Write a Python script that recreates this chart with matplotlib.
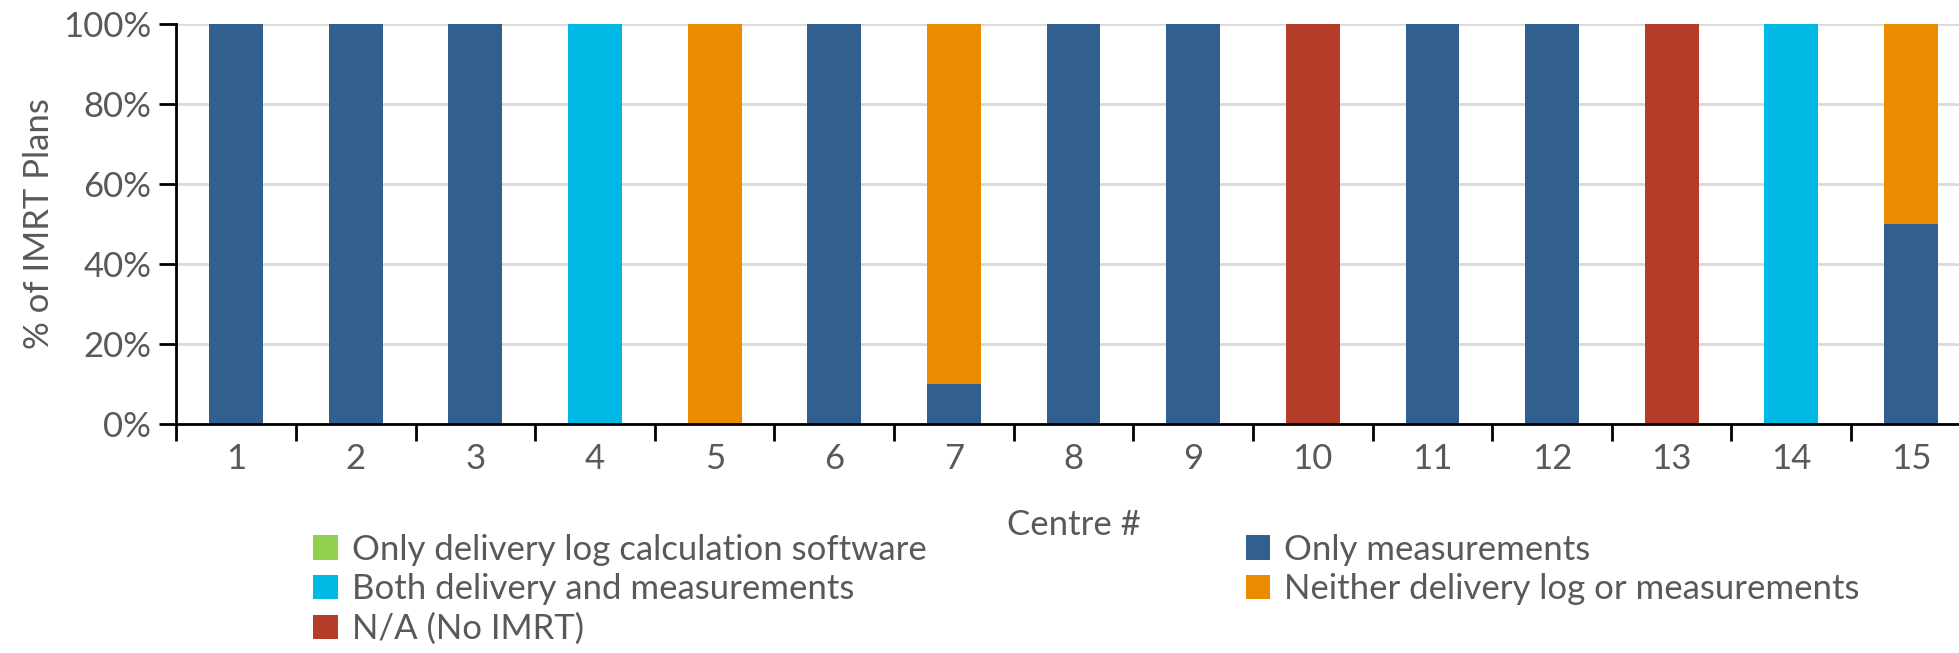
# Stacked bar chart: IMRT plan QA method per centre

import numpy as np
import matplotlib.pyplot as plt
from matplotlib.patches import Patch

plt.rcParams['font.family'] = ['Lato', 'DejaVu Sans']

# Data (fraction of IMRT plans per centre)
centres = [str(i) for i in range(1, 16)]
only_log = [0, 0, 0, 0, 0, 0, 0, 0, 0, 0, 0, 0, 0, 0, 0]
only_meas = [1, 1, 1, 0, 0, 1, 0.1, 1, 1, 0, 1, 1, 0, 0, 0.5]
both = [0, 0, 0, 1, 0, 0, 0, 0, 0, 0, 0, 0, 0, 1, 0]
neither = [0, 0, 0, 0, 1, 0, 0.9, 0, 0, 0, 0, 0, 0, 0, 0.5]
no_imrt = [0, 0, 0, 0, 0, 0, 0, 0, 0, 1, 0, 0, 1, 0, 0]

series_names = ["Only delivery log calculation software", "Only measurements",
                "Both delivery and measurements", "Neither delivery log or measurements",
                "N/A (No IMRT)"]
series_vals = [only_log, only_meas, both, neither, no_imrt]
colors = ["#92D050", "#31608F", "#00B9E4", "#EB8C00", "#B43C28"]

txt = "#595959"
fs = 25

fig = plt.figure(figsize=(19.59, 6.53), dpi=100)
ax = fig.add_axes([0.090, 0.351, 0.916, 0.612])

x = np.arange(len(centres))
bottom = np.zeros(len(centres))
for name, vals, c in zip(series_names, series_vals, colors):
    vals = np.array(vals, dtype=float)
    ax.bar(x, vals, 0.45, bottom=bottom, color=c, label=name, zorder=3)
    bottom += vals

ax.set_xlim(-0.5, 14.5)
ax.set_ylim(0, 1)
ax.set_yticks(np.arange(0, 1.01, 0.2))
ax.set_yticklabels([f"{int(round(v*100))}%" for v in np.arange(0, 1.01, 0.2)])
ax.set_xticks(x)
ax.set_xticklabels(centres)
ax.set_xticks(np.arange(-0.5, 15, 1), minor=True)
ax.tick_params(axis='x', which='major', length=0, pad=14, labelsize=fs, labelcolor=txt)
ax.tick_params(axis='x', which='minor', length=12, width=2, color='black')
ax.tick_params(axis='y', length=12, width=2, color='black', pad=6, labelsize=fs, labelcolor=txt)

ax.grid(axis='y', color='#D9D9D9', linewidth=2, zorder=0)
for s in ['top', 'right']:
    ax.spines[s].set_visible(False)
for s in ['left', 'bottom']:
    ax.spines[s].set_linewidth(2)
    ax.spines[s].set_color('black')
    ax.spines[s].set_zorder(4)

ax.set_ylabel("% of IMRT Plans", fontsize=fs, color=txt, labelpad=6)
ax.set_xlabel("Centre #", fontsize=fs, color=txt, labelpad=24)

# Legend split into two columns like the original
def make_handles(idx):
    return [Patch(facecolor=colors[i], label=series_names[i]) for i in idx]

leg_kw = dict(frameon=False, fontsize=fs, labelcolor=txt, handlelength=0.7,
              handleheight=0.7, handletextpad=0.4, labelspacing=0.22, borderpad=0,
              borderaxespad=0, loc='upper left')
fig.legend(handles=make_handles([0, 2, 4]), bbox_to_anchor=(0.160, 0.183), **leg_kw)
fig.legend(handles=make_handles([1, 3]), bbox_to_anchor=(0.636, 0.183), **leg_kw)

fig.savefig("out.png", dpi=100)
